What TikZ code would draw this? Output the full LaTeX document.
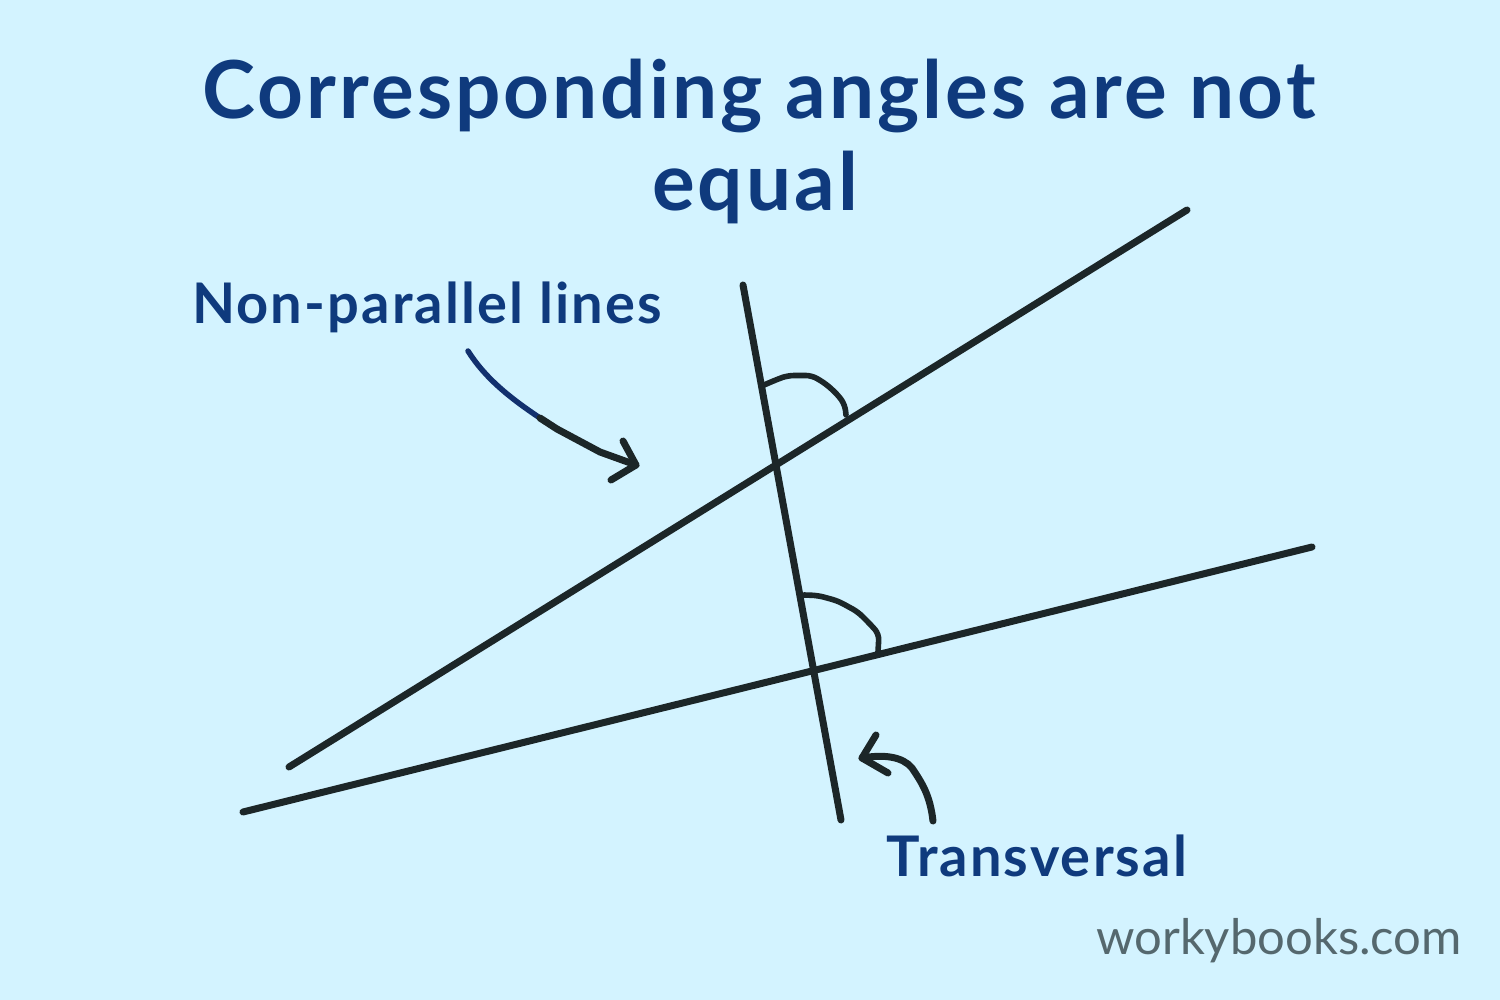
\documentclass[tikz,border=0pt]{standalone}
\usepackage{fontspec}
\setmainfont{Lato}
\newfontfamily\spaced[LetterSpace=3.8]{Lato}
\definecolor{bgc}{HTML}{D3F3FF}
\definecolor{titlec}{HTML}{0F3A7D}
\definecolor{linec}{HTML}{1C2628}
\definecolor{navyl}{HTML}{12306E}
\definecolor{wmc}{HTML}{55686E}
\tikzset{
  geo/.style={draw=linec,line width=7pt,line cap=round},
  arcl/.style={draw=linec,line width=5.6pt,line cap=round,line join=round,rounded corners=6pt},
  ptr/.style={draw=linec,line width=7pt,line cap=round,line join=round},
  lab/.style={text=titlec,font=\spaced\fontsize{56}{66}\selectfont\bfseries,inner sep=0pt},
  ttl/.style={text=titlec,font=\spaced\fontsize{80}{94}\selectfont\bfseries,inner sep=0pt},
}
\begin{document}
\begin{tikzpicture}[x=1pt,y=-1pt]
\useasboundingbox (0,0) rectangle (1500,1000);
\fill[bgc] (0,0) rectangle (1500,1000);
\node[ttl] (t1) at (759,96) {Corresponding angles are not};
\node[ttl] (t2) at (755,187) {equal};
\node[lab] (nl) at (427,307) {Non-parallel lines};
\node[lab] (tr) at (1037,856) {Transversal};
\node[text=wmc,font=\fontsize{49}{56}\selectfont,inner sep=0pt] (wm) at (1279,941) {workybooks.com};
\coordinate (a1) at (289,767); \coordinate (a2) at (1187,210);
\coordinate (b1) at (243,812); \coordinate (b2) at (1312,547);
\coordinate (c1) at (743,285); \coordinate (c2) at (841,820);
\draw[geo] (a1) -- (a2);
\draw[geo] (b1) -- (b2);
\draw[geo] (c1) -- (c2);
\coordinate (u1) at (764,385); \coordinate (u2) at (846,415);
\coordinate (v1) at (804,595); \coordinate (v2) at (878,652);
\draw[arcl] (u1) -- (778,379) -- (788,375.5) -- (812,375.5) -- (826,384) -- (838,395) -- (845,405) -- (u2);
\draw[arcl] (v1) -- (818,595.5) -- (838,601) -- (858,612) -- (870,624) -- (879,634) -- (v2);
\coordinate (p1) at (468,351); \coordinate (p2) at (636,465);
\coordinate (pm) at (540,418);
\draw[draw=navyl,line width=5.5pt,line cap=round] (p1) .. controls (485,378) and (510,398) .. (pm);
\draw[ptr] (pm) -- (557,429) -- (600,452) -- (p2);
\coordinate (h1) at (623,441); \coordinate (h2) at (611,480);
\draw[ptr] (h1) -- (p2) -- (h2);
\coordinate (q1) at (933,821); \coordinate (q2) at (862,758);
\draw[ptr] (q1) .. controls (930,795) and (922,783) .. (912,768) .. controls (903,757) and (885,754) .. (q2);
\coordinate (k1) at (876,735); \coordinate (k2) at (888,773);
\draw[ptr] (k1) -- (q2) -- (k2);
\end{tikzpicture}
\end{document}
